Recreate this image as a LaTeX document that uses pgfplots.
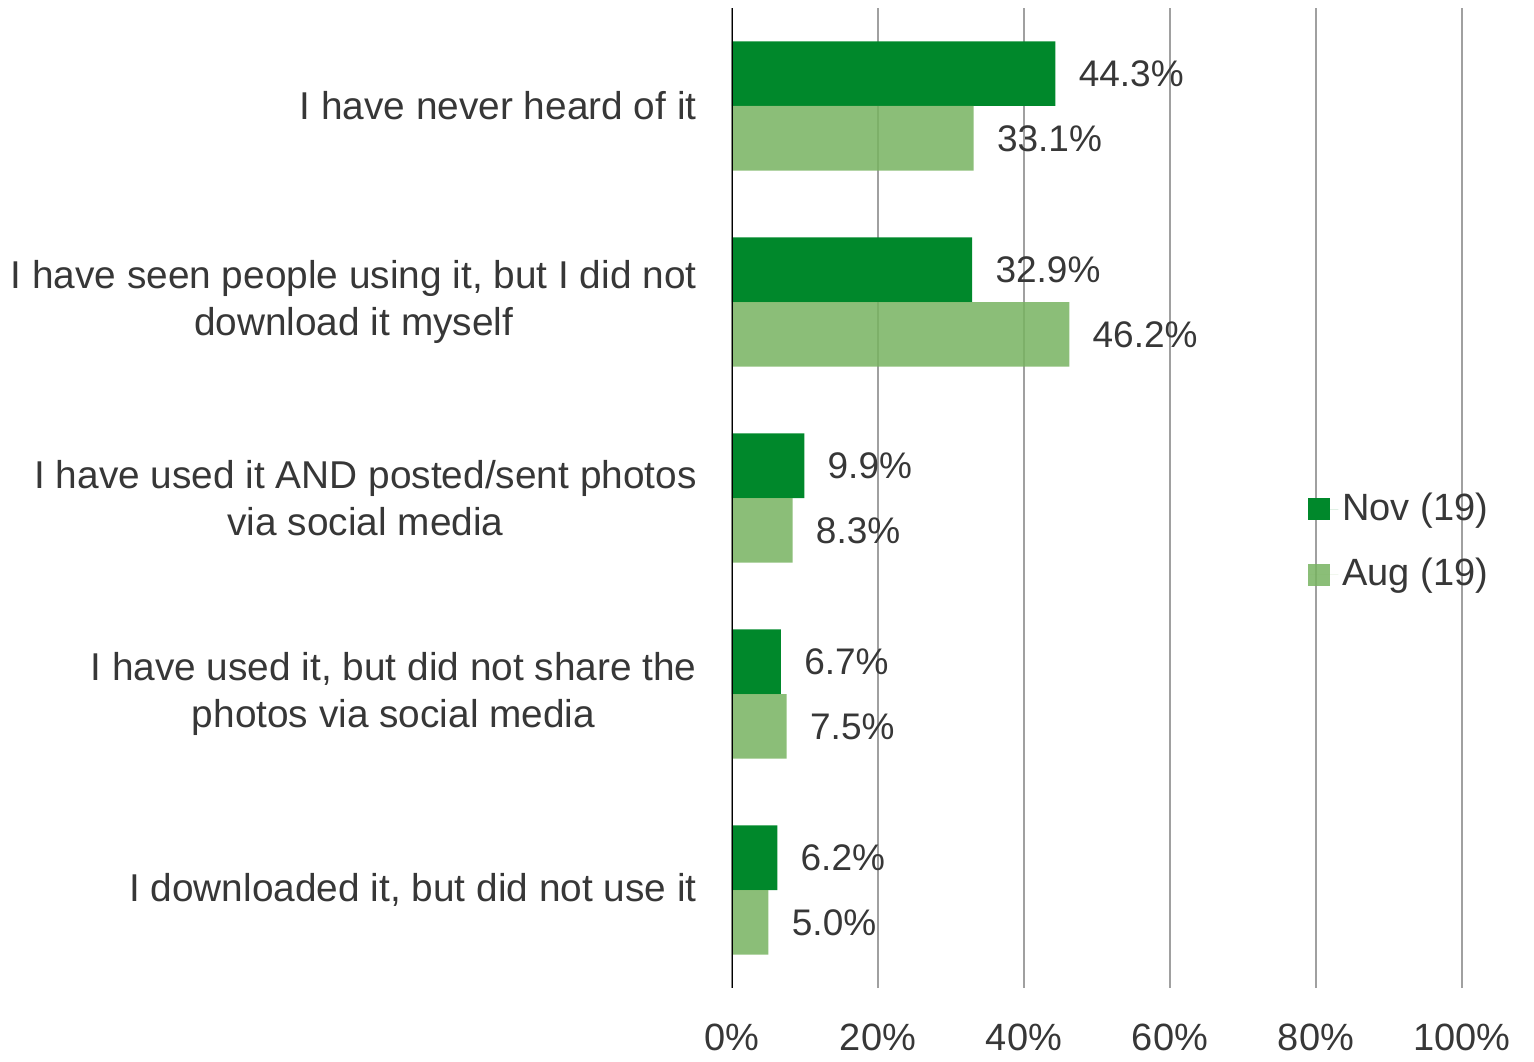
\documentclass[border=0pt]{standalone}
\usepackage{pgfplots}
\pgfplotsset{compat=1.18}
\usepackage{fontspec}
\setmainfont{Liberation Sans}
\definecolor{novgreen}{RGB}{0,136,43}
\definecolor{auggreen}{RGB}{119,179,96}
\definecolor{txt}{RGB}{55,55,55}
\definecolor{gridgray}{RGB}{160,160,160}

\begin{document}
\fontsize{19pt}{23.5pt}\selectfont
\begin{tikzpicture}
\path[use as bounding box] (-366pt,-36.5pt) rectangle (401pt,494pt);
\begin{axis}[
    scale only axis,
    width=365pt, height=490pt,
    xbar, bar width=0.33,
    xmin=0, xmax=100,
    ymin=-0.5, ymax=4.5,
    xtick={0,20,...,100},
    xticklabel={\pgfmathprintnumber{\tick}\%},
    /pgf/number format/assume math mode=true,
    ytick={0,1,2,3,4},
    yticklabels={
        {I downloaded it, but did not use it},
        {I have used it, but did not share the\\photos via social media},
        {I have used it AND posted/sent photos\\via social media},
        {I have seen people using it, but I did not\\download it myself},
        {I have never heard of it}},
    yticklabel style={align=center, anchor=east, inner sep=0pt, xshift=-17.5pt, text=txt,
        font=\fontsize{19.4pt}{23.5pt}\selectfont},
    xticklabel style={anchor=north, inner sep=0pt, yshift=-18pt, text=txt},
    major tick length=0pt,
    axis line style={draw=none},
    xmajorgrids,
    grid style={gridgray, line width=1pt},
    point meta=x,
    nodes near coords={\pgfmathprintnumber[fixed,fixed zerofill,precision=1]{\pgfplotspointmeta}\%},
    nodes near coords style={anchor=west, inner sep=0pt, xshift=11.5pt, text=txt,
        opacity=1, text opacity=1, fill opacity=1,
        font=\fontsize{18.5pt}{22pt}\selectfont},
    legend style={at={(0.789,0.455)}, anchor=west, draw=none, fill=none,
        inner sep=0pt, row sep=12pt, text=txt},
    legend cell align=left,
    legend image code/.code={\fill[#1] (0pt,-5.5pt) rectangle (11pt,5.5pt);
        \path (0pt,0pt) -- (15pt,0pt);},
]
% Nov (19)
\addplot[draw=none, fill=novgreen, bar shift=0.165] coordinates {
    (44.3,4) (32.9,3) (9.9,2) (6.7,1) (6.2,0)};
\addlegendentry{Nov (19)}
% Aug (19)
\addplot[draw=none, fill=auggreen, fill opacity=0.85, bar shift=-0.165] coordinates {
    (33.1,4) (46.2,3) (8.3,2) (7.5,1) (5.0,0)};
\addlegendentry{Aug (19)}
% zero line
\draw[black, line width=1pt] (axis cs:0,-0.5) -- (axis cs:0,4.5);
\end{axis}
\end{tikzpicture}
\end{document}
